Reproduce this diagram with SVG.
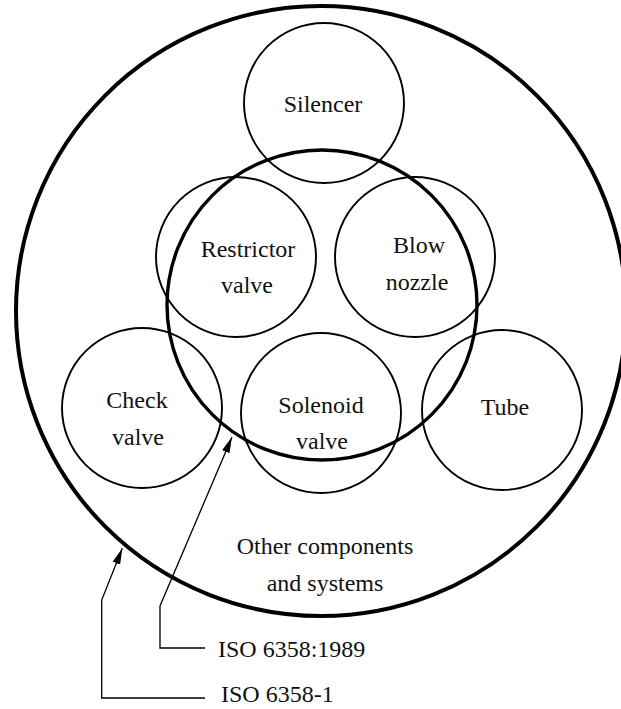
<svg xmlns="http://www.w3.org/2000/svg" width="621" height="709" viewBox="0 0 621 709">
<style>
.thin{fill:none;stroke:#000;stroke-width:1.9}
.thick{fill:none;stroke:#000;stroke-width:3.4}
.outer{fill:none;stroke:#000;stroke-width:4}
text{font-family:"Liberation Serif","Times New Roman",serif;font-size:24px;fill:#111;text-anchor:middle}
.lbl{text-anchor:start}
.lead{fill:none;stroke:#000;stroke-width:1.3}
</style>
<defs>
<marker id="arr" viewBox="0 0 16 8" refX="16" refY="4" markerWidth="16" markerHeight="8" orient="auto" markerUnits="userSpaceOnUse">
<path d="M0,0 L16,4 L0,8 z" fill="#000"/>
</marker>
</defs>
<rect width="621" height="709" fill="#fff"/>
<g id="other-components">
<circle class="outer" cx="321" cy="311" r="305"/>
<text x="325" y="554">Other components</text>
<text x="325" y="591">and systems</text>
</g>
<g id="silencer">
<circle class="thin" cx="324" cy="103" r="80"/>
<text x="323" y="112">Silencer</text>
</g>
<g id="restrictor-valve">
<circle class="thin" cx="236" cy="257" r="80"/>
<text x="248" y="257">Restrictor</text>
<text x="247" y="293">valve</text>
</g>
<g id="blow-nozzle">
<circle class="thin" cx="415" cy="257" r="80"/>
<text x="419" y="253">Blow</text>
<text x="417" y="290">nozzle</text>
</g>
<g id="check-valve">
<circle class="thin" cx="142" cy="408" r="80"/>
<text x="137" y="408">Check</text>
<text x="138" y="445">valve</text>
</g>
<g id="solenoid-valve">
<circle class="thin" cx="321" cy="413" r="80"/>
<text x="321" y="413">Solenoid</text>
<text x="322" y="449">valve</text>
</g>
<g id="tube">
<circle class="thin" cx="502" cy="410" r="80"/>
<text x="505" y="415">Tube</text>
</g>
<g id="iso-6358-1989">
<circle class="thick" cx="322" cy="305" r="155"/>
</g>
<g id="connectors">
<path class="lead" d="M205,648 H160 V606 L232,437" marker-end="url(#arr)"/>
<path class="lead" d="M205,698 H101.7 V600 L122.3,548.3" marker-end="url(#arr)"/>
</g>
<g id="labels">
<text class="lbl" x="218" y="657">ISO 6358:1989</text>
<text class="lbl" x="221" y="702">ISO 6358-1</text>
</g>
</svg>
